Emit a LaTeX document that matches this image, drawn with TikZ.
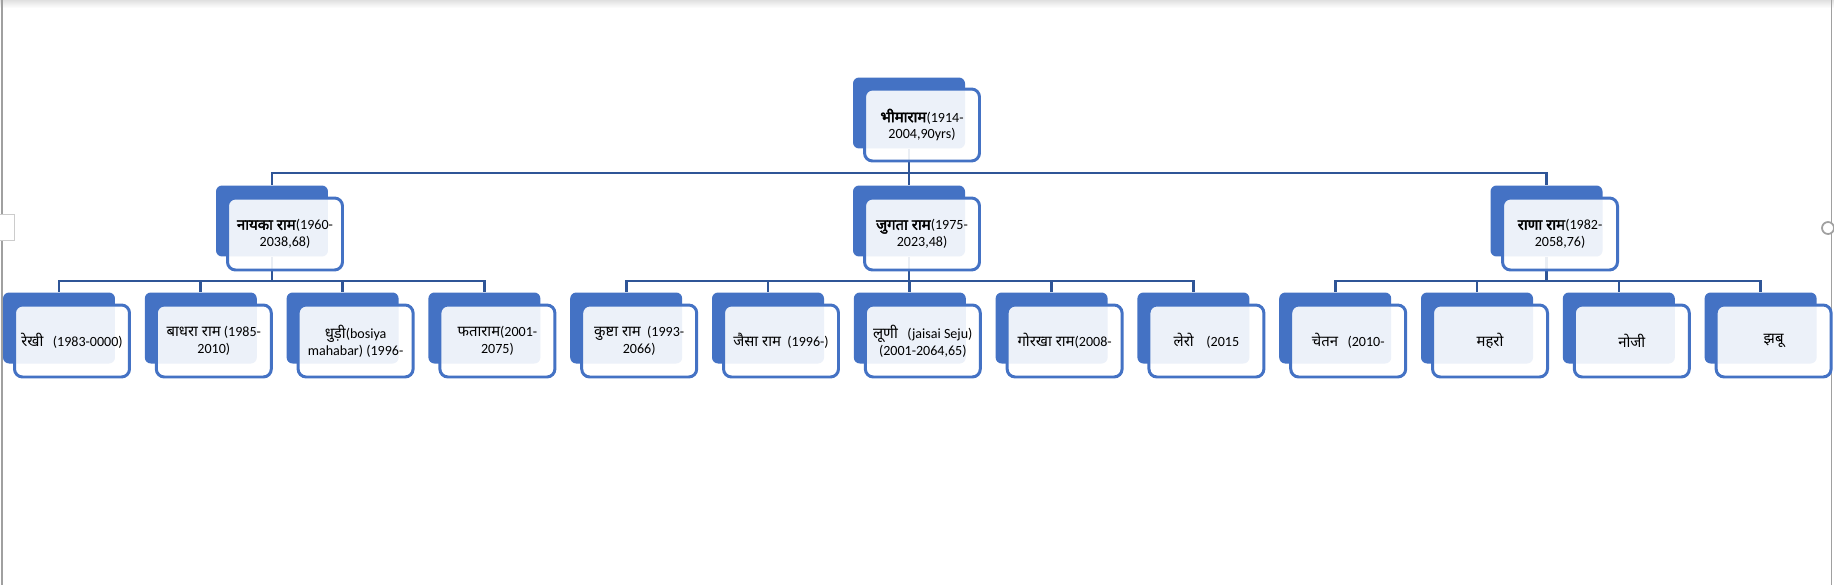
\documentclass[tikz,border=0pt]{standalone}
\usepackage{fontspec}
\setmainfont{Carlito}
\newfontfamily\dev[Script=Devanagari, Scale=1.06, BoldFont=*, BoldFeatures={FakeBold=2.5}]{Noto Sans}
\usetikzlibrary{positioning,backgrounds}
\definecolor{boxblue}{HTML}{4472C4}
\definecolor{linkblue}{HTML}{2F5597}
\definecolor{framegray}{HTML}{A0A0A0}

\begin{document}
\begin{tikzpicture}[x=0.02cm, y=-0.02cm,
    back/.style={fill=boxblue, rounded corners=0.12cm, minimum width=2.24cm, minimum height=1.42cm, inner sep=0pt},
    front/.style={draw=boxblue, line width=1.7pt, fill=white, fill opacity=0.9, text opacity=1, rounded corners=0.16cm,
        minimum width=2.3cm, minimum height=1.44cm, inner sep=0pt, align=center, font=\fontsize{8}{9.6}\selectfont},
    link/.style={draw=linkblue, line width=1.5pt}]
            \useasboundingbox (0,0) rectangle (1834,585);

            % window frame
            \shade[top color=black!12, bottom color=white] (0,0) rectangle (1834,8);
            \draw[framegray, line width=0.6pt] (2,0) -- (2,585);
            \draw[framegray, line width=0.6pt] (1831,0) -- (1831,585);
            \draw[black!20, fill=white, line width=0.5pt] (-1,214) rectangle (14,240);
            \draw[framegray, fill=white, line width=1pt] (1828,228) circle (6);

            % Level 0
            \node[back] (bhima) at (909,113) {};
            \node[front] (bhimaTxt) at (922,125) {\textbf{\dev भीमाराम}(1914-\\2004,90yrs)};

            % Level 1
            \node[back] (nayka) at (272,221) {};
            \node[front] (naykaTxt) at (285,234) {\textbf{\dev नायका राम}(1960-\\2038,68)};

            \node[back] (jugta) at (909,221) {};
            \node[front] (jugtaTxt) at (922,234) {\textbf{\dev जुगता राम}(1975-\\2023,48)};

            \node[back] (rana) at (1546.5,221) {};
            \node[front] (ranaTxt) at (1560,234) {\textbf{\dev राणा राम}(1982-\\2058,76)};

            % Level 2 - Left
            \node[back] (rekhi) at (59,328) {};
            \node[front] (rekhiTxt) at (72,341) {{\dev रेखी}\ \ \ (1983-0000)};
            \node[back] (badhra) at (200.8,328) {};
            \node[front] (badhraTxt) at (213.8,341) {{\dev बाधरा राम} (1985-\\2010)};
            \node[back] (dhudi) at (342.6,328) {};
            \node[front] (dhudiTxt) at (355.6,341) {{\dev धुड़ी}(bosiya\\mahabar) (1996-};
            \node[back] (fata) at (484.4,328) {};
            \node[front] (fataTxt) at (497.4,341) {{\dev फताराम}(2001-\\2075)};

            % Level 2 - Middle
            \node[back] (kushta) at (626.2,328) {};
            \node[front] (kushtaTxt) at (639.2,341) {{\dev कुष्टा राम}\ \ (1993-\\2066)};
            \node[back] (jaisa) at (768,328) {};
            \node[front] (jaisaTxt) at (781,341) {{\dev जैसा राम}\ \ (1996-)};
            \node[back] (luni) at (909.8,328) {};
            \node[front] (luniTxt) at (922.8,341) {{\dev लूणी}\ \ \ (jaisai Seju)\\(2001-2064,65)};
            \node[back] (gorkha) at (1051.6,328) {};
            \node[front] (gorkhaTxt) at (1064.6,341) {{\dev गोरखा राम}(2008-};
            \node[back] (lero) at (1193.4,328) {};
            \node[front] (leroTxt) at (1206.4,341) {{\dev लेरो}\ \ \ \ (2015};

            % Level 2 - Right
            \node[back] (chetan) at (1335.2,328) {};
            \node[front] (chetanTxt) at (1348.2,341) {{\dev चेतन}\ \ \ (2010-};
            \node[back] (mahro) at (1477,328) {};
            \node[front] (mahroTxt) at (1490,341) {\dev महरो};
            \node[back] (noji) at (1618.8,328) {};
            \node[front] (nojiTxt) at (1631.8,341) {\dev नोजी};
            \node[back] (jhabu) at (1760.6,328) {};
            \node[front] (jhabuTxt) at (1773.6,341) {\dev झबू};

            % connectors
            \begin{scope}[on background layer]
                \coordinate (bus0) at (909,173);
                \coordinate (busA) at (272,281);
                \coordinate (busB) at (909,281);
                \coordinate (busC) at (1546.5,281);

                \draw[link] (bhima.south) -- (bus0);
                \draw[link] (bus0) -| (nayka.north);
                \draw[link] (bus0) -- (jugta.north);
                \draw[link] (bus0) -| (rana.north);

                \draw[link] (nayka.south) -- (busA);
                \draw[link] (busA) -| (rekhi.north);
                \draw[link] (busA) -| (badhra.north);
                \draw[link] (busA) -| (dhudi.north);
                \draw[link] (busA) -| (fata.north);

                \draw[link] (jugta.south) -- (busB);
                \draw[link] (busB) -| (kushta.north);
                \draw[link] (busB) -| (jaisa.north);
                \draw[link] (busB) -| (luni.north);
                \draw[link] (busB) -| (gorkha.north);
                \draw[link] (busB) -| (lero.north);

                \draw[link] (rana.south) -- (busC);
                \draw[link] (busC) -| (chetan.north);
                \draw[link] (busC) -| (mahro.north);
                \draw[link] (busC) -| (noji.north);
                \draw[link] (busC) -| (jhabu.north);
            \end{scope}
        \end{tikzpicture}
\end{document}
